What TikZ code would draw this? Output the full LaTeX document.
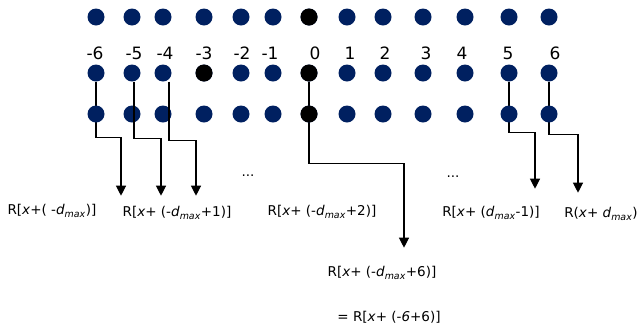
\documentclass[tikz,border=0pt]{standalone}
\usepackage{fontspec}
\setmainfont{DejaVu Sans}
\usetikzlibrary{arrows.meta,backgrounds}
\definecolor{dotblue}{HTML}{002060}
\tikzset{
  dot/.style={circle,fill=dotblue,inner sep=0pt,minimum size=17pt},
  hot/.style={dot,fill=black},
  idx/.style={font=\fontsize{17}{19}\selectfont,inner sep=0pt},
  lbl/.style={font=\fontsize{13.5}{15}\selectfont,inner sep=0pt},
  conn/.style={line width=1.2pt,-{Triangle[width=10pt,length=10pt]}},
}
\newcommand{\vx}{\textit{x}}
\newcommand{\dmax}{\textit{d}\textsubscript{\textit{max}}}
\begin{document}
\begin{tikzpicture}[x=1pt,y=-1pt]
\useasboundingbox (0,0) rectangle (637,325);
% three rows of samples, one column per offset
\foreach \n/\px in {m6/96,m5/132,m4/163,m3/204,m2/241,m1/273,z/309,p1/347,p2/383,p3/423,p4/465,p5/509,p6/549}{
  \node[dot] (a\n) at (\px,17) {};
  \node[dot] (b\n) at (\px,73) {};
  \node[dot] (c\n) at (\px,114) {};
}
% highlighted samples
\node[hot] at (az) {};
\node[hot] at (bm3) {};
\node[hot] at (bz) {};
\node[hot] at (cz) {};
% offset labels
\foreach \t/\px in {-6/95,-5/134,-4/165,-3/204,-2/242,-1/270,0/315,1/350,2/385,3/426,4/462,5/508,6/555}{
  \node[idx] at (\px,53) {\t};
}
% result labels
\node[lbl] (r1) at (52,211) {R[\vx+( -\dmax)]};
\node[lbl] (r2) at (177,213) {R[\vx+ (-\dmax+1)]};
\node[lbl] (r3) at (322,212) {R[\vx+ (-\dmax+2)]};
\node[lbl] (r4) at (491,213) {R[\vx+ (\dmax-1)]};
\node[lbl] (r5) at (601,214) {R(\vx+ \dmax)};
\node[lbl] (r6) at (382,273) {R[\vx+ (-\dmax+6)]};
\node[lbl] (r7) at (389,317) {= R[\vx+ (-\textit{6}+6)]};
\node[lbl] (e1) at (248,176) {...};
\node[lbl] (e2) at (453,177) {...};
% connectors
\begin{scope}[on background layer]
\draw[conn] (bm6.south) |- ++(25,56) -- ++(0,58);
\draw[conn] (bz.south) |- ++(95,82) -- ++(0,84);
\draw[conn] (bp5.south) |- ++(26,51) -- ++(0,56);
\draw[conn] (bp6.south) |- ++(29,53) -- ++(0,58);
\end{scope}
\draw[conn] ([xshift=2pt]bm5.south) |- ++(27,57) -- ++(0,57);
\draw[conn] ([xshift=6pt]bm4.south) |- ++(27,59) -- ++(0,55);
\end{tikzpicture}
\end{document}
